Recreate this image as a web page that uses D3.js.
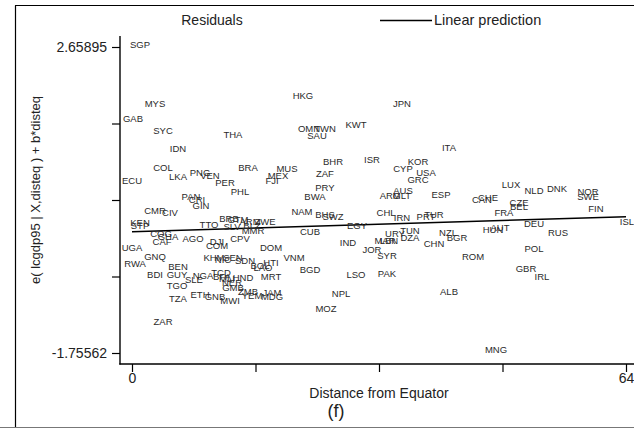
<!DOCTYPE html>
<html><head><meta charset="utf-8">
<script src="https://cdn.jsdelivr.net/npm/d3@7"></script>
<style>body{margin:0;background:#fff}svg{display:block;font-family:"Liberation Sans",Arial,sans-serif}</style>
</head><body><svg id="c" width="634" height="429"></svg>
<script>
const codes = ["SGP","MYS","GAB","SYC","THA","HKG","JPN","OMN","TWN","SAU","KWT","ITA","BHR","ISR","KOR","CYP","USA","GRC","ZAF","PRY","BWA","AUS","ARG","MLT","ESP","CAN","CHE","LUX","NLD","DNK","NOR","SWE","CZE","BEL","FRA","FIN","ISL","DEU","HUN","AUT","RUS","POL","GBR","IRL","MNG","ALB","ROM","NZL","BGR","CHN","TUR","PRT","CHL","IRN","URY","TUN","DZA","MAR","LBN","JOR","SYR","PAK","LSO","NPL","MOZ","IND","EGY","BHS","SWZ","NAM","CUB","BGD","VNM","MRT","DOM","HTI","LAO","BOL","KHM","NIC","SEN","SDN","AGO","DJI","COM","CPV","TCD","BFA","MLI","HND","NER","GMB","ZMB","YEM","JAM","MDG","MWI","GNB","ETH","NGA","SLE","COG","GHA","CAF","UGA","GNQ","RWA","BEN","BDI","GUY","TGO","TZA","ZAR","IDN","COL","ECU","LKA","PNG","VEN","PER","BRA","MUS","MEX","FJI","PHL","PAN","CRI","GIN","CMR","CIV","KEN","STP","TTO","BRB","GTM","ARM","ZWE","SLV","BLZ","MMR"];
const disteq = [1.04,2.98,0.13,4.02,13.08,22.15,34.98,22.93,25.00,23.97,29.02,41.07,26.04,31.09,37.05,35.11,38.09,37.05,25.00,25.00,23.71,35.11,33.42,34.98,40.03,45.34,46.12,49.10,52.08,55.06,59.07,59.07,50.14,50.14,48.19,60.11,64.13,52.08,46.77,47.68,55.19,52.08,51.04,53.12,47.16,41.07,44.18,40.94,42.10,39.12,39.12,38.09,32.91,34.98,34.07,36.01,36.01,32.78,33.29,31.09,33.04,33.04,29.02,27.08,25.13,27.98,29.15,25.00,26.04,22.02,23.06,23.06,20.99,18.01,18.01,18.01,16.97,16.58,10.62,11.79,13.08,14.64,7.90,11.01,11.01,13.99,11.53,11.66,12.31,14.38,12.96,13.08,15.03,15.55,18.14,18.14,12.70,10.75,8.81,9.20,8.03,3.76,4.66,3.89,0.00,2.98,0.39,5.96,2.98,5.83,5.83,5.96,4.02,5.96,4.02,0.00,5.96,8.81,10.10,12.05,15.03,20.08,18.91,18.14,13.99,7.64,8.42,8.94,2.98,4.92,1.04,1.04,9.98,12.57,13.73,15.29,17.23,12.96,15.55,15.68];
const resid = [2.688,1.837,1.620,1.447,1.389,1.952,1.837,1.476,1.476,1.375,1.534,1.202,1.000,1.029,1.000,0.899,0.841,0.740,0.827,0.625,0.495,0.582,0.510,0.510,0.524,0.452,0.481,0.668,0.582,0.611,0.567,0.495,0.409,0.351,0.264,0.322,0.134,0.106,0.019,0.048,-0.024,-0.255,-0.544,-0.659,-1.712,-0.876,-0.371,-0.024,-0.096,-0.183,0.235,0.207,0.264,0.192,-0.039,0.005,-0.096,-0.140,-0.140,-0.270,-0.356,-0.616,-0.630,-0.904,-1.121,-0.169,0.077,0.235,0.207,0.279,-0.010,-0.558,-0.385,-0.659,-0.241,-0.457,-0.529,-0.500,-0.385,-0.414,-0.385,-0.428,-0.111,-0.154,-0.212,-0.111,-0.602,-0.659,-0.688,-0.674,-0.746,-0.818,-0.876,-0.933,-0.890,-0.948,-1.005,-0.948,-0.919,-0.645,-0.702,-0.039,-0.082,-0.154,-0.241,-0.371,-0.472,-0.515,-0.630,-0.630,-0.789,-0.976,-1.308,1.188,0.913,0.726,0.784,0.841,0.798,0.697,0.913,0.899,0.798,0.726,0.567,0.495,0.452,0.365,0.293,0.264,0.120,0.077,0.091,0.178,0.163,0.134,0.134,0.062,0.077,0.005];
const fitX = [0, 64];
const fitY = [-0.006, 0.211];
const xTicks = [0, 16, 32, 48, 64];
const xTickLabels = ["0", "", "", "", "64"];
const yTicks = [-1.75562, -0.652, 0.4517, 1.5553, 2.65895];
const yTickLabels = ["-1.75562", "", "", "", "2.65895"];

const svg = d3.select("#c");
const x = d3.scaleLinear().domain([0, 64]).range([132, 626]);
const y = d3.scaleLinear().domain([-1.75562, 2.65895]).range([353, 47]);

// outer frame
svg.append("line").attr("x1",15.5).attr("x2",15.5).attr("y1",5.5).attr("y2",428).attr("stroke","#000").attr("stroke-width",1.2);
svg.append("line").attr("x1",15).attr("x2",634).attr("y1",5.5).attr("y2",5.5).attr("stroke","#000").attr("stroke-width",1.2);
svg.append("line").attr("x1",0).attr("x2",634).attr("y1",427.5).attr("y2",427.5).attr("stroke","#777").attr("stroke-width",1.2);

// axes
const yAxis = d3.axisLeft(y).tickValues(yTicks).tickSize(8).tickFormat((d,i)=>yTickLabels[i]);
const gy = svg.append("g").attr("transform","translate(120,0)").call(yAxis);
gy.select(".domain").remove();
gy.append("line").attr("x1",0).attr("x2",0).attr("y1",36).attr("y2",364.5).attr("stroke","#000").attr("stroke-width",1.4);
gy.selectAll(".tick line").attr("stroke","#000").attr("stroke-width",1.2);
gy.selectAll(".tick text").attr("font-size",14).attr("fill","#222").attr("x",-13).attr("font-family","Liberation Sans, Arial, sans-serif");

const xAxis = d3.axisBottom(x).tickValues(xTicks).tickSize(8).tickFormat((d,i)=>xTickLabels[i]);
const gx = svg.append("g").attr("transform","translate(0,364)").call(xAxis);
gx.select(".domain").remove();
gx.append("line").attr("x1",119.3).attr("x2",634).attr("y1",0).attr("y2",0).attr("stroke","#000").attr("stroke-width",1.4);
gx.selectAll(".tick line").attr("stroke","#000").attr("stroke-width",1.2);
gx.selectAll(".tick text").attr("font-size",14).attr("fill","#222").attr("y",9).attr("font-family","Liberation Sans, Arial, sans-serif");

// axis titles
svg.append("text").attr("x",379).attr("y",398).attr("text-anchor","middle").attr("font-size",14).attr("fill","#222").text("Distance from Equator");
svg.append("text").attr("x",336).attr("y",417).attr("text-anchor","middle").attr("font-size",18).attr("fill","#222").text("(f)");
svg.append("text").attr("transform","translate(40,190) rotate(-90)").attr("text-anchor","middle").attr("font-size",13).attr("fill","#222").text("e( lcgdp95 | X,disteq ) + b*disteq");

// legend
svg.append("text").attr("x",212).attr("y",25).attr("text-anchor","middle").attr("font-size",14).attr("fill","#222").text("Residuals");
svg.append("line").attr("x1",380).attr("x2",432).attr("y1",20.5).attr("y2",20.5).attr("stroke","#000").attr("stroke-width",1.4);
svg.append("text").attr("x",434).attr("y",25).attr("font-size",14.5).attr("fill","#222").text("Linear prediction");

// fit line
const line = d3.line().x(d=>x(d[0])).y(d=>y(d[1]));
svg.append("path").datum(fitX.map((v,i)=>[v,fitY[i]])).attr("d",line).attr("fill","none").attr("stroke","#000").attr("stroke-width",1.5);

// labels
svg.append("g").selectAll("text").data(codes).join("text")
  .attr("x",(d,i)=>x(disteq[i])).attr("y",(d,i)=>y(resid[i]))
  .attr("dy","0.35em").attr("text-anchor","middle").attr("font-size",9.5).attr("fill","#2a2a2a")
  .text(d=>d);
</script></body></html>
